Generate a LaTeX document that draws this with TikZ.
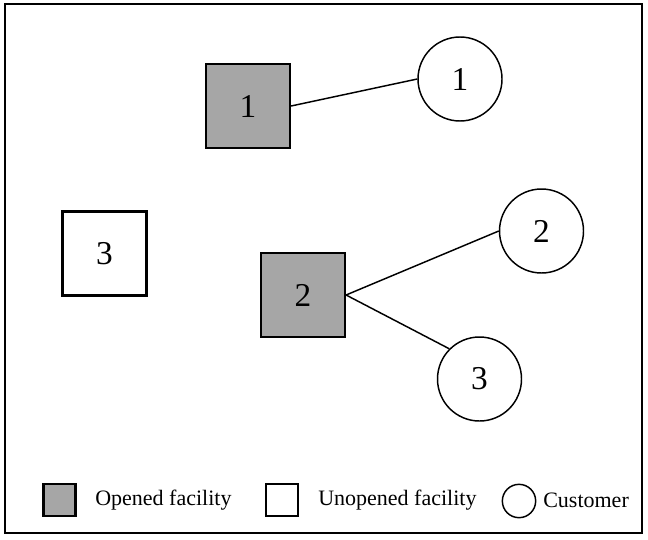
\documentclass[tikz,border=0pt]{standalone}
\usepackage{fontspec}
\setmainfont{Liberation Serif}
\definecolor{facgray}{HTML}{A6A6A6}
\tikzset{
  facility/.style={draw=black, line width=1.6pt, minimum size=63pt, inner sep=0pt, font=\fontsize{25}{27}\selectfont},
  opened/.style={facility, fill=facgray},
  unopened/.style={facility, fill=white},
  customer/.style={draw=black, circle, line width=1.1pt, minimum size=63pt, inner sep=0pt, font=\fontsize{25}{27}\selectfont},
  link/.style={draw=black, line width=1.1pt},
  legsq/.style={draw=black, line width=1.6pt, minimum size=24pt, inner sep=0pt},
  legcirc/.style={draw=black, circle, line width=1.1pt, minimum size=25pt, inner sep=0pt},
  legtext/.style={anchor=west, inner sep=0pt, font=\fontsize{16.5}{18}\selectfont}
}
\begin{document}
\begin{tikzpicture}[x=0.75pt,y=-0.75pt]
\useasboundingbox (0,0) rectangle (648,539);
\draw[line width=1.1pt] (5,4) rectangle (642,533);
\node[opened] (f1) at (248,106) {1};
\node[opened] (f2) at (303,295) {2};
\node[unopened] (f3) at (104.5,253.5) {3};
\node[customer] (c1) at (460,79) {1};
\node[customer] (c2) at (541.5,231) {2};
\node[customer] (c3) at (479.5,379) {3};
\draw[link] (f1.east) -- (c1.west);
\draw[link] (f2.east) -- (c2.west);
\draw[link] (f2.east) -- (c3.north west);
\node[legsq, fill=facgray] (l1) at (59.5,500) {};
\node[legtext] (t1) at (95,500) {Opened facility};
\node[legsq, fill=white] (l2) at (282,500) {};
\node[legtext] (t2) at (318,500) {Unopened facility};
\node[legcirc] (l3) at (519,501) {};
\node[legtext] (t3) at (543,500) {Customer};
\end{tikzpicture}
\end{document}
